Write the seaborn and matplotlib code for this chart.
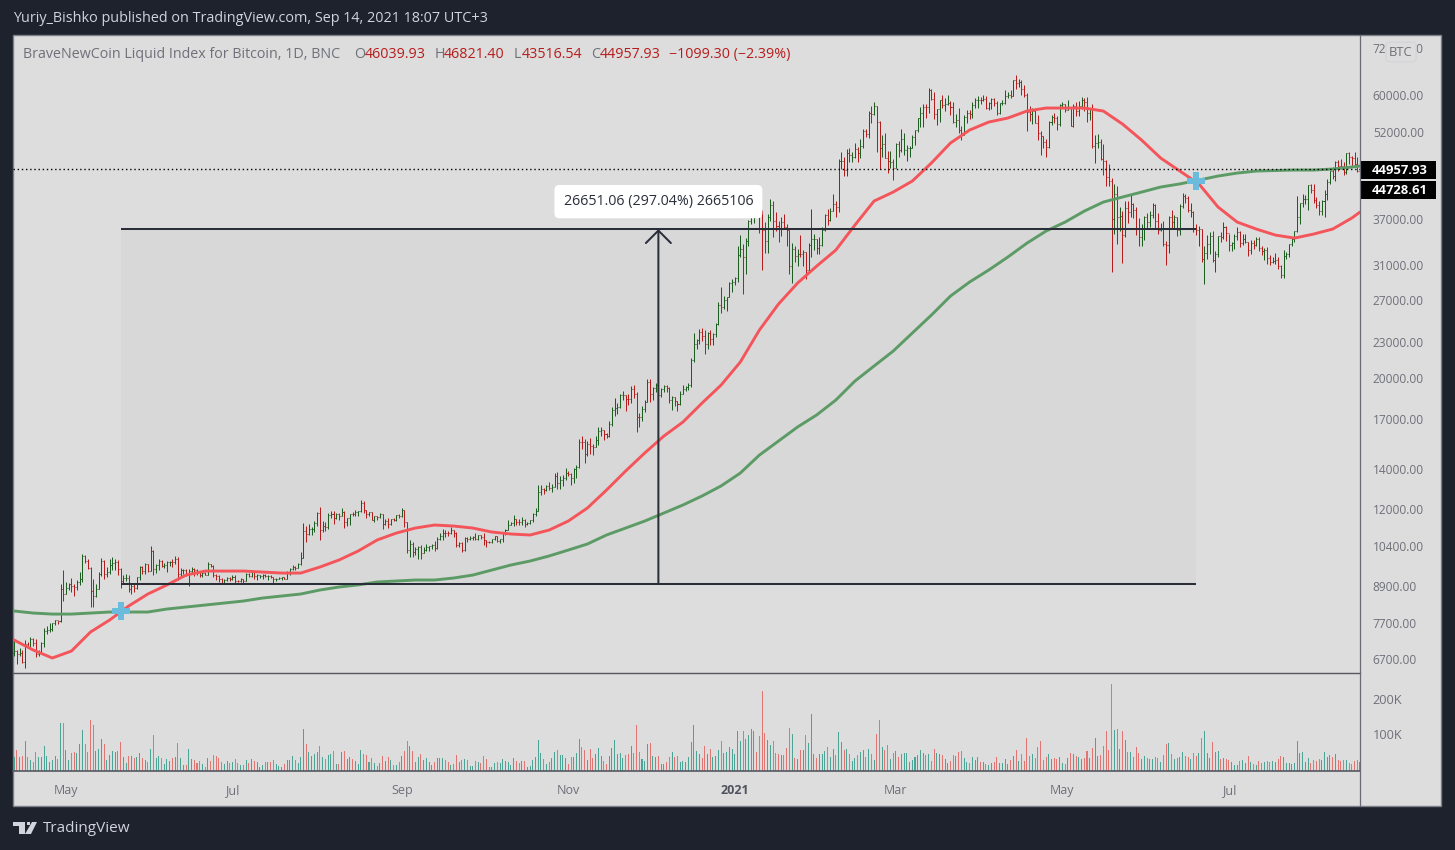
import numpy as np
import pandas as pd
import seaborn as sns
import matplotlib
matplotlib.use('Agg')
import matplotlib.pyplot as plt
import matplotlib.dates as mdates
from matplotlib.patches import Rectangle, Polygon
from matplotlib.ticker import NullLocator
from matplotlib.transforms import ScaledTranslation

start_date = '2020-04-12'

# daily bars, apr 2020 - aug 2021
high = [7180,6930,6990,6930,7200,7150,7300,7260,7230,6930,7160,7550,7620,7700,7720,7790,7780,8950,9460,
 9040,9010,9190,8950,9100,9390,10070,10040,9900,9580,9150,8950,9400,9930,9830,9580,9880,9950,9900,9840,9560,9270,9310,9300,8980,9010,9230,9620,9600,9740,9700,
 10390,10220,9690,9880,9850,9720,9800,9800,9880,9990,9950,9560,9490,9490,9500,9580,9540,9490,9400,9400,9410,9780,9690,9670,9320,9290,9190,9140,9210,9200,
 9290,9270,9120,9180,9140,9360,9360,9470,9450,9310,9300,9340,9340,9280,9280,9210,9190,9200,9230,9220,9430,9540,9650,9630,9740,10150,11380,11250,11340,11170,11450,
 11870,12100,11450,11400,11800,11900,11900,11800,11800,12060,11930,11610,11780,11850,11970,11930,12450,12380,11970,11880,11880,11680,11700,11810,11760,11530,11590,11550,11570,11720,11790,
 12050,11960,11420,10630,10560,10340,10410,10440,10350,10480,10410,10480,10580,10750,10930,11100,11040,11030,11170,11050,10990,10570,10540,10770,10760,10790,10800,10950,10860,10850,
 10920,10660,10600,10690,10800,10800,10680,10940,11110,11490,11420,11720,11560,11540,11630,11550,11400,11510,11810,12040,13200,13190,13030,13170,13340,13240,13790,13840,13620,13680,14100,
 13900,13820,14070,14260,15760,15960,15770,15650,15840,15460,15950,16480,16480,16320,16150,16880,17850,18480,18100,18800,18960,18700,18760,19350,19470,18900,17440,17900,18340,19860,
 19900,19300,19570,19500,19180,19410,19420,19280,18630,18560,18280,18950,19400,19350,19570,21560,23770,23280,24170,24300,24100,23840,24100,23780,24770,26800,28400,27500,27400,29000,29300,
 29600,33300,34800,33600,34450,36950,40400,41950,41300,41300,38300,36600,37800,40100,39700,38100,36800,37300,37800,36400,35500,33700,33400,33000,34800,32900,32600,33800,38500,34900,34300,
 34600,35900,37800,38500,38700,40900,39700,46700,48100,47200,48700,48900,48000,49700,49000,50500,52600,52500,56300,57500,58300,57400,54200,51300,51800,48300,48300,46700,
 49800,50100,52500,51700,49400,49200,51400,52400,54900,57300,58000,58000,61700,61500,60600,56900,58900,60000,59400,59900,58500,58400,55800,57100,53200,55400,56600,56500,58300,59300,59800,
 59500,60000,59700,58400,59200,59400,58600,58200,58900,61200,60700,61100,63700,64800,63800,63500,62400,60400,57500,57000,56700,55400,52100,51200,50600,54300,55400,55900,55200,58000,
 58400,57900,58900,57200,57900,58300,58600,59500,59200,59500,56900,57900,51300,51500,50600,49600,46600,45800,43500,42400,42200,38800,38200,39800,39700,40800,39400,38800,37200,36400,37500,
 37900,38200,39400,39200,37900,36500,36700,34000,37500,38300,37600,37400,39300,41000,40900,40500,39500,38200,36400,36100,35700,33300,34800,35200,35400,32700,34700,35200,36600,36000,
 35000,33900,35000,35900,35300,35000,35000,33900,34100,34200,34600,34600,33300,33100,33200,32200,31900,32400,31900,31000,32800,32600,33600,34500,35400,40500,39500,40900,40600,42300,42400,
 42500,40400,39700,39900,41400,43200,44700,45300,46400,46600,46700,46200,47900,48000,47400,48000,47100,46821]

low = [6780,6560,6780,6600,6480,6990,7020,7050,6760,6780,6830,7020,7390,7440,7480,7650,7670,7730,8410,
 8630,8760,8700,8550,8760,8940,9040,9730,9520,8200,8200,8530,8800,9260,9140,9220,9340,9480,9480,9300,8820,8950,9070,8700,8640,8700,8810,9110,9340,9340,9380,
 9420,9280,9370,9460,9580,9530,9380,9630,9570,9690,9100,9230,9340,9260,8900,9370,9240,9300,9200,9210,9280,9290,9570,9210,9100,9040,8950,8950,9080,9090,
 9110,8950,9040,9050,8950,9060,9210,9230,9150,9110,9180,9160,9200,9110,9170,9000,9090,9130,9110,9130,9150,9280,9470,9480,9530,9650,9920,10560,10860,10830,10980,
 11220,10650,10960,11000,11090,11570,11320,11530,11510,11680,11150,11250,11270,11680,11690,11690,11850,11830,11600,11670,11490,11400,11520,11600,11120,11260,11130,11270,11470,11450,11600,
 11640,11180,10100,9970,9950,10020,9900,9880,10120,10200,10200,10290,10200,10270,10650,10640,10750,10820,10890,10770,10360,10360,10160,10200,10560,10640,10630,10630,10650,10670,
 10440,10370,10510,10530,10620,10540,10530,10550,10830,11060,11280,11220,11300,11280,11270,11210,11290,11340,11410,11690,11900,12680,12720,12890,12910,12800,13060,12950,12980,13130,13430,
 13620,13200,13300,13530,14090,15170,14350,14720,14850,14830,15280,15420,15960,15710,15790,15870,16550,17220,17340,17770,18330,17600,18000,18120,18500,16200,16500,16900,17530,18180,
 18180,18340,18930,18590,18560,18900,18920,18130,17650,17930,17570,18000,18730,19000,19050,19300,21230,22350,22750,23060,21900,22350,22700,22720,23430,24500,25700,26100,25900,27320,27850,
 28700,28950,32000,27700,29900,33400,36300,36500,38700,35100,30400,32500,32400,36700,34500,35400,33900,34700,35700,33400,29900,28900,31400,30900,31900,30900,29300,30000,31900,32900,32300,
 32300,33400,35400,36200,36700,38200,37400,38100,45000,43800,43800,46300,46300,47000,46300,47000,48900,50900,50800,53800,55500,48000,45000,47100,46900,44300,45100,43100,
 45100,47100,48100,47600,46400,47100,48900,49300,51900,53000,53000,54900,55900,58900,54600,53300,54100,57000,56300,57800,55500,53700,52900,51700,50400,51400,53900,54700,54900,57000,57000,
 57900,58500,56800,56500,56800,57500,55500,55700,57600,57900,59300,59400,59800,61400,62000,60000,59600,52200,54300,53500,53700,50400,47600,48800,47100,48800,53400,53900,52400,53100,
 57100,56100,56500,53100,52900,55300,55300,56900,56300,54000,54500,48800,46000,48900,46600,43900,42200,42200,30200,34900,33600,35300,31200,34500,36500,37300,37200,34800,33400,33400,34200,
 35700,35900,37200,35700,34900,35300,33400,31000,32400,35800,35700,34700,34800,38700,39500,38100,37400,35200,34800,33400,31300,28800,31700,32300,31300,30200,32000,33900,34300,34000,
 32700,32700,33000,34100,33200,33500,33800,32100,32300,33000,33300,32700,32200,31600,31100,31000,31200,31100,30500,29500,29500,31700,32000,33400,33900,35200,36400,38800,39200,38300,41000,
 39500,38700,37600,37600,37400,39900,42500,43300,42900,44600,45300,43900,44200,45900,45600,45700,44400,43517]

close = [6900,6840,6860,6620,7100,7030,7240,7130,6830,6860,7120,7480,7505,7540,7700,7790,7760,8780,8620,
 8830,8970,8900,8880,9030,9150,9980,9810,9540,8730,8560,8810,9310,9790,9320,9380,9670,9730,9770,9510,9060,9170,9180,8790,8900,8840,9200,9570,9430,9700,9450,
 10200,9520,9660,9790,9620,9670,9750,9780,9770,9880,9320,9470,9470,9340,9430,9520,9460,9380,9300,9360,9300,9680,9620,9290,9250,9160,9000,9120,9190,9140,
 9230,9090,9060,9130,9070,9340,9250,9430,9240,9290,9240,9300,9240,9260,9200,9130,9150,9170,9210,9160,9390,9520,9580,9540,9700,9930,11030,10910,11100,11110,11350,
 11800,11070,11230,11190,11740,11770,11600,11750,11680,11880,11400,11580,11780,11770,11860,11910,12280,11950,11750,11860,11520,11660,11650,11750,11320,11460,11320,11540,11480,11710,11680,
 11970,11410,10250,10470,10170,10280,10370,10130,10230,10340,10390,10440,10330,10680,10790,10950,10940,10930,11080,10920,10420,10530,10240,10740,10690,10730,10770,10690,10840,10780,
 10620,10570,10550,10670,10790,10600,10670,10920,11060,11300,11370,11540,11430,11430,11500,11320,11360,11480,11750,11920,12820,12970,12930,13120,13030,13070,13650,13280,13460,13560,13800,
 13760,13550,14030,14150,15590,15580,14840,15480,15330,15300,15700,16280,16320,16070,15960,16720,17650,17800,17820,18680,18710,18420,18370,19160,18730,17150,17140,17720,18180,19700,
 18790,19220,19440,18700,19170,19380,19190,18320,18550,18250,18040,18800,19170,19270,19440,21380,22830,23150,23870,23480,22750,23820,23240,23730,24660,26490,26280,27040,27360,28890,28990,
 29400,32200,33000,32020,34030,36820,39370,40670,40240,38240,35540,34010,37390,39150,36830,36020,35820,36630,35890,35470,30850,33000,32080,32280,32370,32570,30430,33470,34320,34320,33110,
 33520,35510,37620,36950,38290,39230,38840,46400,46500,44840,47970,47480,47170,48720,47940,49130,52120,51600,55910,55800,57500,54100,48880,49680,47000,46340,46180,45240,
 49600,48370,50540,48370,48760,48880,50970,52390,54880,55850,57230,57230,61170,59000,55630,56900,58910,57650,58040,58100,57350,54080,54340,52300,51300,55040,55860,55780,57630,58800,58800,
 58730,58980,57060,58200,59130,58050,56000,58080,58130,59770,60000,59860,63580,62960,63200,61380,60050,56200,55720,56470,53900,51700,51190,50050,49000,54020,55030,54820,53560,57750,
 57830,56630,57210,53240,57470,56430,57380,58890,58280,55860,56750,49150,49720,49880,46760,46430,43540,42900,37000,40780,37300,37530,34770,38730,38100,39240,38350,35660,34600,35680,37340,
 36690,37570,39190,36830,35520,35800,33590,33470,37340,36690,37340,35550,39020,40520,40140,38350,38050,35820,35480,35600,31680,32510,33680,34660,31590,32280,34700,34500,35900,35040,
 33530,33800,34670,35290,33690,34230,33860,32870,33810,33520,34260,33100,32690,32820,31870,31380,31520,31530,30840,29790,32140,32310,33580,34290,35380,37270,39460,40020,40030,42210,41460,
 39870,39150,38150,39720,40890,42830,44610,43800,46280,45600,45560,44430,47830,47110,47010,45900,44700,44800]
first_open = 6850

# colour of each day as shown in the volume pane, u = up, d = down
up_down = ('ududududdu' 'uuuuuududu' 'udduuudddd' 'uuuduuuudd' 'uududuudud' 'uduuduuudu'
           'duuduudddu' 'duddddduud' 'uddudududu' 'uududduuud' 'uuuduuuduu' 'uududuudud'
           'uduuduuudd' 'ududududud' 'ududduduud' 'uuuuduuudd' 'uddududuud' 'udddduuduu'
           'uuuudduduu' 'uuuududuud' 'uuudduuudd' 'udduuudduu' 'uuuudduddd' 'uuuduuduud'
           'dudduuuuuu' 'uudduduuud' 'uuuuuuuduu' 'uudddduudd' 'dudddududu' 'duuuduuudu'
           'uduududuud' 'uudududdud' 'dududuuuuu' 'uuuududduu' 'duuddudduu' 'duuududuud'
           'duuuududud' 'dddudddddu' 'udduududud' 'uudduduudd' 'dddudududu' 'ddduuduudd'
           'uddududuud' 'dudduduuud' 'uududduuud' 'uudududdud' 'duudduuuuu' 'uuuuuddddu'
           'uuududddud' 'dddu')

# 50 and 200 day averages, read every 7th day plus the last day
ma_fast = [7213,6938,6726,6910,7441,7796,8234,8625,8935,9284,9430,9430,9430,9393,9357,9357,9578,9843,10192,10640,
 10930,11146,11277,11233,11146,10975,10890,10848,11060,11453,12047,12920,13910,14920,15935,16828,18115,19435,21245,24060,
 26620,28885,30855,32835,36190,39725,41135,42930,46050,49780,52350,54000,54850,56365,57025,57025,57025,56365,53590,50350,
 46950,44640,42460,38815,36610,35629,34805,34400,34940,35629,37185,38060]
ma_slow = [8074,8010,7978,7978,8010,8042,8042,8042,8136,8200,8263,8328,8393,8491,8558,8625,8760,8863,8935,9037,
 9072,9107,9107,9178,9284,9467,9655,9805,10000,10232,10475,10848,11146,11453,11815,12190,12625,13130,13800,14800,
 15630,16510,17300,18330,19735,20920,22170,23780,25500,27460,29000,30380,31955,33730,35350,36610,38200,39570,40350,41135,
 41950,42460,43100,43780,44290,44640,44730,44815,44815,44988,45340,45520]

volume = [40,60,40,43,86,40,31,26,54,40, 40,71,43,26,31,43,34,137,137,60, 31,51,54,51,77,117,77,54,146,131,
 57,63,91,77,31,46,57,54,57,83, 40,23,43,43,37,40,51,37,31,26, 63,103,37,43,37,20,34,29,37,40,
 80,37,17,17,63,34,31,23,29,20, 11,37,29,46,43,37,26,20,29,23, 26,34,23,17,17,31,23,34,29,26,
 11,17,26,26,26,31,20,14,11,20, 31,31,43,31,23,40,120,77,54,43, 49,54,71,40,34,46,49,57,20,20,
 54,57,34,40,34,29,20,60,49,46, 26,37,23,14,23,43,29,40,31,17, 17,26,43,57,86,71,57,26,40,49,
 31,37,26,17,26,37,37,37,31,26, 17,20,46,26,31,34,31,14,14,29, 26,23,43,34,11,11,23,26,23,34,
 29,26,17,37,29,23,29,29,11,14, 31,40,89,51,34,20,26,37,54,60, 46,46,37,20,40,40,51,91,69,60,
 31,63,37,49,66,43,29,20,43,66, 89,49,51,37,46,49,71,51,131,54, 34,29,77,80,43,40,43,20,20,26,
 40,54,40,43,26,29,26,40,83,131, 57,49,37,71,49,63,40,43,60,86, 51,54,69,63,49,114,86,114,91,103,
 120,114,54,100,229,109,89,74,86,51, 49,46,46,66,123,106,37,34,60,60, 103,80,163,49,37,49,49,57,69,40,
 63,46,111,83,60,63,49,29,37,46, 54,60,40,63,49,31,106,146,69,60, 74,34,51,57,40,49,51,51,26,31,
 40,46,60,51,46,49,29,63,51,49, 46,34,23,29,46,43,54,57,37,26, 23,40,31,40,26,26,20,17,23,26,
 40,23,23,34,20,31,43,60,29,49, 29,94,43,49,37,69,86,31,40,49, 34,37,34,40,23,20,37,51,49,43,
 40,34,37,57,37,66,94,43,46,71, 114,60,249,117,120,63,114,89,54,54, 40,69,51,34,43,37,34,34,40,37,
 26,46,77,80,49,34,37,40,54,43, 40,34,51,43,51,94,114,51,37,83, 54,57,34,37,34,31,26,17,17,29,
 31,23,43,26,20,17,29,23,26,29, 26,29,26,34,43,40,23,23,20,23, 86,51,54,26,37,23,31,29,34,31,
 54,40,46,40,49,31,29,31,31,23, 20,29,31,26]

price_ticks = [6700,7700,8900,10400,12000,14000,17000,20000,23000,27000,31000,37000,52000,60000,72000]
volume_ticks = [100,200]
volume_tick_labels = ['100K','200K']
month_dates = ['2020-05-01','2020-07-01','2020-09-01','2020-11-01','2021-01-01','2021-03-01','2021-05-01','2021-07-01']
month_labels = ['May','Jul','Sep','Nov','2021','Mar','May','Jul']

box_start, box_mid, box_end = '2020-05-21', '2020-12-04', '2021-06-19'
box_low, box_high = 8968.94, 35620.00
box_text = '26651.06 (297.04%) 2665106'
last_close = 44957.93
last_slow = 44728.61
cross_dates = ['2020-05-21','2021-06-19']
cross_prices = [8060,42930]

BG = '#1e222d'
PANEL = '#dddddd'
SHADE = '#d8d8d8'
INK = '#2a2e39'
GREY = '#6f7079'
BORDER = '#7d7f88'
UP_BAR, DOWN_BAR = '#1b5e20', '#b71c1c'
UP_VOL, DOWN_VOL = '#3db3a2', '#f2645f'
FAST, SLOW = '#f4555a', '#5c9b66'

sns.set_theme(style='white')
plt.rcParams['font.family'] = ['Open Sans', 'DejaVu Sans']

W, H = 1455, 850
def fx(px):
    return px / W
def fy(px):
    return 1 - px / H

fig = plt.figure(figsize=(W / 100, H / 100), dpi=100, facecolor=BG)
fig.add_artist(Rectangle((fx(13), fy(806)), fx(1441) - fx(13), fy(35) - fy(806), transform=fig.transFigure,
                         fc=PANEL, ec=BORDER, lw=1, zorder=-1))
ax = fig.add_axes([fx(13), fy(673), fx(1360) - fx(13), fy(35) - fy(673)])
vax = fig.add_axes([fx(13), fy(771), fx(1360) - fx(13), fy(673) - fy(771)])

day0 = mdates.date2num(pd.Timestamp(start_date))
n = len(close)
x = day0 + np.arange(n)
open_ = np.array([first_open] + close[:-1])   # each daily bar opens at the last close
hi, lo, cl = np.array(high), np.array(low), np.array(close)
up = np.array([c == 'u' for c in up_down])

df = pd.DataFrame({'x': x, 'volume': volume, 'dir': list(up_down)})

ma_x = list(day0 + np.arange(0, 491, 7)) + [day0 + 493]
ma = pd.DataFrame({'x': ma_x, 'fast': ma_fast, 'slow': ma_slow})

# shaded measure box
num = lambda d: mdates.date2num(pd.Timestamp(d))
ax.fill_between([num(box_start), num(box_end)], box_low, box_high, color=SHADE, lw=0, zorder=1)

# ohlc bars
for mask, col in [(up, UP_BAR), (~up, DOWN_BAR)]:
    ax.vlines(x[mask], lo[mask], hi[mask], color=col, lw=0.72, zorder=2)
    ax.hlines(open_[mask], x[mask] - 0.37, x[mask], color=col, lw=0.72, zorder=2)
    ax.hlines(cl[mask], x[mask], x[mask] + 0.37, color=col, lw=0.72, zorder=2)

sns.lineplot(data=ma, x='x', y='slow', color=SLOW, lw=2.1, ax=ax, zorder=3, errorbar=None, sort=False,
             solid_joinstyle='round')
sns.lineplot(data=ma, x='x', y='fast', color=FAST, lw=2.1, ax=ax, zorder=3, errorbar=None, sort=False,
             solid_joinstyle='round')

ax.axhline(last_close, color='black', lw=1.0, ls=(0, (1, 2)), zorder=3)

ax.hlines([box_low, box_high], num(box_start), num(box_end), color=INK, lw=1.45, zorder=4)
ax.annotate('', xy=(num(box_mid), box_high), xytext=(num(box_mid), box_low), zorder=4,
            arrowprops=dict(arrowstyle='->,head_length=0.9,head_width=0.9', mutation_scale=10,
                            color=INK, lw=1.45, shrinkA=0, shrinkB=0))
ax.annotate(box_text, xy=(num(box_mid), box_high), xytext=(0, 19.8), textcoords='offset points',
            ha='center', va='center', fontsize=10.3, color=INK, zorder=6,
            bbox=dict(boxstyle='round,pad=0.64,rounding_size=0.35', fc='white', ec='none'))

sns.scatterplot(x=[num(d) for d in cross_dates], y=cross_prices, marker='P', s=150, color='#6bbbdd',
                linewidth=0, ax=ax, zorder=5, legend=False)

ax.set_yscale('log')
ax.set_ylim(6345, 75745)
ax.set_xlim(day0 - 0.4, day0 + 493.0)
ax.set_facecolor('none')
ax.yaxis.tick_right()
ax.yaxis.set_minor_locator(NullLocator())
ax.set_yticks(price_ticks)
ax.set_yticklabels(['%.2f' % p for p in price_ticks])
ax.tick_params(axis='y', length=0, pad=9.2, labelsize=8.6, labelcolor=GREY)
ax.set_xticks([])
ax.set_xlabel('')
ax.set_ylabel('')

# volume pane
sns.barplot(data=df, x='x', y='volume', hue='dir', hue_order=['u', 'd'], palette={'u': UP_VOL, 'd': DOWN_VOL},
            native_scale=True, dodge=False, width=0.37, linewidth=0, errorbar=None, legend=False, ax=vax, zorder=2)
vax.set_ylim(0, 280)
vax.set_xlim(day0 - 0.4, day0 + 493.0)
vax.set_facecolor('none')
vax.yaxis.tick_right()
vax.set_yticks(volume_ticks)
vax.set_yticklabels(volume_tick_labels)
vax.tick_params(axis='y', length=0, pad=9.2, labelsize=9.2, labelcolor=GREY)
for lab in vax.get_yticklabels():
    lab.set_transform(lab.get_transform() + ScaledTranslation(0, 2 / 100, fig.dpi_scale_trans))
vax.set_xticks([num(d) for d in month_dates])
vax.set_xticklabels(month_labels)
vax.tick_params(axis='x', length=0, pad=9.5, labelsize=9, labelcolor=GREY)
for lab in vax.get_xticklabels():
    if lab.get_text() == '2021':
        lab.set_fontweight('bold')
        lab.set_color('#50535e')
vax.set_xlabel('')
vax.set_ylabel('')

for a in (ax, vax):
    for side in ('top', 'left', 'right', 'bottom'):
        a.spines[side].set_visible(False)
    a.grid(False)
vax.spines['top'].set_visible(True)
vax.spines['top'].set_color('#555761')
vax.spines['top'].set_linewidth(1)
vax.spines['bottom'].set_visible(True)
vax.spines['bottom'].set_color('#555761')
vax.spines['bottom'].set_linewidth(1.2)
fig.add_artist(plt.Line2D([fx(1360), fx(1360)], [fy(35), fy(806)], transform=fig.transFigure, color='#6a6c75', lw=0.9))

# header
fig.text(fx(13), fy(19), 'Yuriy_Bishko published on TradingView.com, Sep 14, 2021 18:07 UTC+3',
         color='#d1d4dc', fontsize=10.4, va='center')
legend_bits = [('BraveNewCoin Liquid Index for Bitcoin, 1D, BNC', 23, GREY),
               ('O', 354, GREY), ('46039.93', 365, DOWN_BAR),
               ('H', 435, GREY), ('46821.40', 444, DOWN_BAR),
               ('L', 514, GREY), ('43516.54', 522, DOWN_BAR),
               ('C', 591, GREY), ('44957.93', 600, DOWN_BAR),
               ('\u22121099.30 (\u22122.39%)', 669, DOWN_BAR)]
for txt, px, col in legend_bits:
    fig.text(fx(px), fy(54.5), txt, color=col, fontsize=10.3, va='center')

# price flags on the right
for label, top, bottom in [('%.2f' % last_close, 161, 179), ('%.2f' % last_slow, 181, 199)]:
    fig.add_artist(Rectangle((fx(1361), fy(bottom)), fx(1436) - fx(1361), fy(top) - fy(bottom),
                             transform=fig.transFigure, fc='black', ec='none'))
    fig.text(fx(1400), fy((top + bottom) / 2), label, color='white', fontsize=9.4, fontweight='bold',
             ha='center', va='center')

fig.text(fx(1401), fy(52), 'BTC', color=GREY, fontsize=9.4, ha='center', va='center',
         bbox=dict(boxstyle='round,pad=0.25', fc=PANEL, ec='#d3d3d8', lw=0.8))

# tradingview logo
LOGO = '#d1d4dc'
logo_shapes = [
    Polygon([(fx(13), fy(822)), (fx(25), fy(822)), (fx(25), fy(834)), (fx(19), fy(834)), (fx(19), fy(826)), (fx(13), fy(826))],
            closed=True, transform=fig.transFigure, fc=LOGO, ec='none'),
    Polygon([(fx(32), fy(822)), (fx(37), fy(822)), (fx(31), fy(834)), (fx(25), fy(834))],
            closed=True, transform=fig.transFigure, fc=LOGO, ec='none'),
    Polygon([(fx(26.5), fy(822)), (fx(29.5), fy(822)), (fx(29.5), fy(825)), (fx(26.5), fy(825))],
            closed=True, transform=fig.transFigure, fc=LOGO, ec='none'),
]
for shape in logo_shapes:
    fig.add_artist(shape)
fig.text(fx(43), fy(828), 'TradingView', color=LOGO, fontsize=11, va='center')

fig.savefig('out.png', dpi=100, facecolor=BG)
